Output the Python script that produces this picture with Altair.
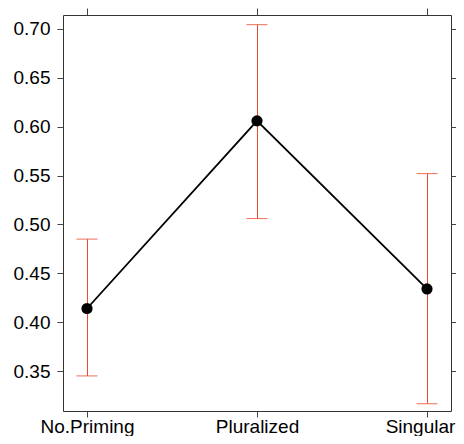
import altair as alt
import pandas as pd

cats = ["No.Priming", "Pluralized", "Singular"]
means = [0.414, 0.606, 0.434]
lower = [0.345, 0.506, 0.3165]
upper = [0.485, 0.7044, 0.552]
yticks = [0.35, 0.40, 0.45, 0.50, 0.55, 0.60, 0.65, 0.70]

df = pd.DataFrame({"cat": cats, "mean": means, "lower": lower, "upper": upper})

FONT = "Liberation Sans"
ERR = "#E84A2C"

xs = alt.Scale(type="point", padding=24 / 170, domain=cats)
ys = alt.Scale(domain=[0.3091, 0.7143], nice=False, zero=False)

common_axis = dict(domain=False, grid=False, title=None, tickColor="#444", tickWidth=1,
                   labelFont=FONT, labelFontSize=19, labelColor="black")

x_bottom = alt.Axis(
    orient="bottom", labelAngle=0, tickSize=6, labelPadding=0,
    labelOffset=alt.condition("datum.value == 'Singular'", alt.value(-7), alt.value(0)),
    **common_axis,
)
x_top = alt.Axis(orient="top", labels=False, tickSize=7, **common_axis)
y_left = alt.Axis(orient="left", values=yticks, format=".2f", tickSize=6, labelPadding=7, **common_axis)
y_right = alt.Axis(orient="right", values=yticks, labels=False, tickSize=5, **common_axis)

base = alt.Chart(df)

rules = base.mark_rule(color=ERR, strokeWidth=1, xOffset=0.5).encode(
    x=alt.X("cat:N", scale=xs, axis=x_bottom, sort=cats),
    y=alt.Y("lower:Q", scale=ys, axis=y_left),
    y2="upper:Q",
)
caps_lo = base.mark_tick(color=ERR, thickness=1, size=21, orient="horizontal", opacity=0.8).encode(
    x=alt.X("cat:N", scale=xs, axis=x_top, sort=cats),
    y=alt.Y("lower:Q", scale=ys, axis=y_right),
)
caps_hi = base.mark_tick(color=ERR, thickness=1, size=21, orient="horizontal", opacity=0.8).encode(
    x=alt.X("cat:N", scale=xs, axis=None, sort=cats),
    y=alt.Y("upper:Q", scale=ys, axis=None),
)
line = base.mark_line(color="black", strokeWidth=1.8).encode(
    x=alt.X("cat:N", scale=xs, axis=None, sort=cats),
    y=alt.Y("mean:Q", scale=ys, axis=None),
)
pts = base.mark_circle(size=125, color="black", opacity=1).encode(
    x=alt.X("cat:N", scale=xs, axis=None, sort=cats),
    y=alt.Y("mean:Q", scale=ys, axis=None),
)

chart = alt.layer(rules, caps_lo, caps_hi, line, pts).resolve_axis(
    x="independent", y="independent"
).properties(
    width=388, height=396,
    autosize=alt.AutoSizeParams(type="none"),
    padding={"left": 55, "top": 7, "right": 5, "bottom": 25},
    background="white",
).configure_view(stroke="#333", strokeWidth=1)

chart.save("out.html", embed_options={"renderer": "svg", "actions": False})
